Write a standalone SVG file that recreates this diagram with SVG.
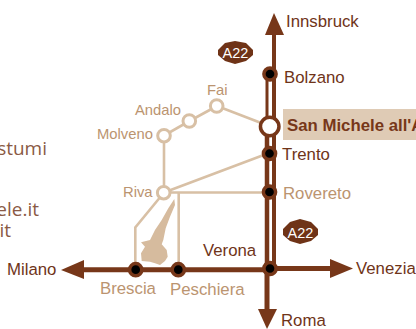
<svg xmlns="http://www.w3.org/2000/svg" width="416" height="329" viewBox="0 0 416 329">
<style>
text{font-family:"Liberation Sans",Arial,sans-serif;font-size:16.800px}
.d{fill:#6f3419}.t{fill:#bb9470}.s{fill:#8a5a45;font-family:"Open Sans",sans-serif;font-size:19px}
.n{font-size:14.800px}
.m{fill:none;stroke:#773719;stroke-linecap:butt}
.l{fill:none;stroke:#d8c0a5;stroke-width:2.600}
.a{fill:#773719}
.st{fill:#000;stroke:#773719;stroke-width:3.500}
.tn{fill:#fff;stroke:#d8c0a5;stroke-width:3}
.b{fill:#fff;font-size:14.500px;text-anchor:middle}
</style>
<rect width="416" height="329" fill="#fff"/>
<g id="side-text">
<text class="s" x="47" y="155" text-anchor="end">stumi</text>
<text class="s" x="39" y="216" text-anchor="end">ele.it</text>
<text class="s" x="11" y="237" text-anchor="end">it</text>
</g>
<g id="connectors">
<path class="l" d="M217 106L269 126M217 106L189.500 121L164 135.500V192.500M164 192.500L269 153M164 192.500H269M164 192.500L135.300 227.500V266M178.700 192.500V266"/>
<path d="M174.300 199L175 205L170 216.700L165.700 228.300L163.300 240L161.700 244.300L166.700 250L167.700 256.700L165 261L160 265L155 263.300L150 261.700L141.700 261L141 253.300L145 246.700L141 242.300L150 240L155 230L161.700 220L168.300 208.300Z" fill="#d6bb9e"/>
<path class="m" stroke-width="5" d="M84 269.700H268"/>
<path class="m" stroke-width="5" d="M270 268.500H332"/>
<path class="m" stroke-width="4" d="M274 30V268"/>
<path class="m" stroke-width="3" d="M267 74V126"/>
<path class="m" stroke-width="4.500" d="M267 126V268"/>
<path class="m" stroke-width="5" d="M267 268V312"/>
<path class="a" d="M274 13L284 35H265Z"/>
<path class="a" d="M61 270L84 260V279Z"/>
<path class="a" d="M353 268.500L330 259V278Z"/>
<path class="a" d="M267 329L258 309H277Z"/>
</g>
<g id="a22-top"><path d="M225 43L235 41L246 43L253 50V55L246 61L235 64L225 61L218 55V50Z" fill="#6f3317"/><text class="b" x="235.500" y="57.500">A22</text></g>
<g id="a22-bottom"><path d="M290 222L300 219L311 222L318 229V235L311 241L300 244L290 241L283 235V229Z" fill="#6f3317"/><text class="b" x="300.500" y="237.500">A22</text></g>
<g id="bolzano"><circle class="st" cx="270" cy="74" r="6.100"/><text class="d" x="284" y="83">Bolzano</text></g>
<g id="san-michele"><rect x="283" y="109" width="133" height="31" fill="#dfcbb5"/><circle cx="269.700" cy="126.500" r="9.250" fill="#fff" stroke="#773719" stroke-width="3.500"/><text x="287" y="131" style="font-weight:bold;font-size:16.800px" fill="#773719">San Michele all'A</text></g>
<g id="trento"><circle class="st" cx="269.500" cy="153.500" r="6.100"/><text class="d" x="282" y="160">Trento</text></g>
<g id="rovereto"><circle class="st" cx="269.500" cy="192" r="6.100"/><text class="t" x="283" y="199">Rovereto</text></g>
<g id="verona"><circle class="st" cx="270" cy="268.500" r="6.100"/><text class="d" x="203" y="256">Verona</text></g>
<g id="brescia"><circle class="st" cx="135.700" cy="269.700" r="6.100"/><text class="t" x="100" y="294">Brescia</text></g>
<g id="peschiera"><circle class="st" cx="178.300" cy="269.700" r="6.100"/><text class="t" x="170" y="295">Peschiera</text></g>
<g id="fai"><circle class="tn" cx="216.700" cy="106" r="6.300"/><text class="t n" x="207" y="95">Fai</text></g>
<g id="andalo"><circle class="tn" cx="189.300" cy="121" r="6.300"/><text class="t n" x="135" y="115">Andalo</text></g>
<g id="molveno"><circle class="tn" cx="164" cy="135.700" r="6.300"/><text class="t n" x="97" y="139">Molveno</text></g>
<g id="riva"><circle class="tn" cx="163.700" cy="192.700" r="6.300"/><text class="t n" x="123" y="197">Riva</text></g>
<g id="milano"><text class="d" x="7" y="275">Milano</text></g>
<g id="innsbruck"><text class="d" x="286" y="27">Innsbruck</text></g>
<g id="venezia"><text class="d" x="356" y="274">Venezia</text></g>
<g id="roma"><text class="d" x="281" y="326">Roma</text></g>
</svg>
